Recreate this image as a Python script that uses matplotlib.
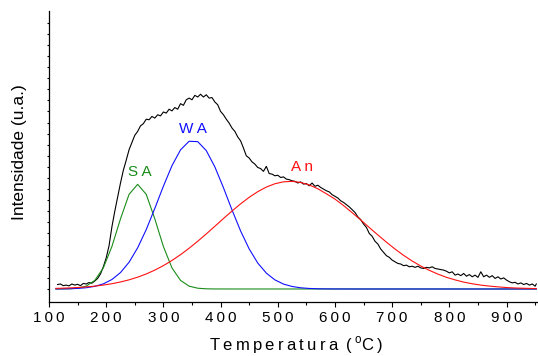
import numpy as np
import matplotlib
matplotlib.use("Agg")
import matplotlib.pyplot as plt
from matplotlib.ticker import MultipleLocator

plt.rcParams['font.family'] = ['Liberation Sans', 'DejaVu Sans']
plt.rcParams['mathtext.fontset'] = 'custom'
plt.rcParams['mathtext.rm'] = 'Liberation Sans'

# measured signal (temperature in C, intensity in arbitrary units)
temp_signal = list(range(115, 951, 5)) + [952]
signal = [
    0.40, 0.45, 0.30, 0.35, 0.28, 0.45, 0.35, 0.42, 0.30, 0.50,
    0.45, 0.58, 0.52, 0.72, 0.95, 1.35, 2.00, 2.80, 3.90, 5.60,
    7.00, 8.30, 9.55, 10.70, 11.60, 12.55, 13.20, 13.85, 14.20, 14.70,
    14.90, 15.30, 15.25, 15.55, 15.40, 15.70, 15.60, 15.95, 15.85, 16.20,
    16.05, 16.35, 16.20, 16.70, 16.55, 17.05, 17.20, 17.05, 17.45, 17.30,
    17.55, 17.30, 17.50, 17.20, 17.25, 16.85, 16.60, 16.00, 15.70, 15.30,
    14.95, 14.50, 14.20, 13.70, 13.35, 12.70, 12.00, 11.80, 11.45, 11.25,
    10.95, 10.85, 10.60, 11.05, 10.40, 10.35, 10.20, 10.25, 10.05, 10.10,
    9.90, 9.85, 9.75, 9.70, 9.55, 9.65, 9.45, 9.50, 9.30, 9.55,
    9.25, 9.35, 9.15, 9.00, 8.85, 8.75, 8.50, 8.35, 8.20, 7.95,
    7.80, 7.60, 7.40, 7.15, 6.90, 6.50, 6.25, 5.85, 5.55, 5.00,
    4.75, 4.30, 4.05, 3.60, 3.30, 3.00, 2.85, 2.60, 2.45, 2.30,
    2.25, 2.10, 2.15, 2.00, 2.05, 1.95, 2.05, 1.90, 1.85, 1.95,
    1.90, 2.00, 1.85, 1.80, 1.75, 1.70, 1.60, 1.45, 1.55, 1.25,
    1.35, 1.20, 1.40, 1.15, 1.30, 1.10, 1.25, 1.05, 1.55, 1.10,
    1.25, 1.05, 1.20, 0.95, 1.10, 0.90, 1.00, 0.80, 0.65, 0.55,
    0.60, 0.45, 0.55, 0.40, 0.50, 0.35, 0.45, 0.25,
    0.45,
]

# deconvoluted peaks
temp_fit = [112] + list(range(120, 946, 15)) + [952]
sa = [0.001, 0.003, 0.015, 0.069, 0.256, 0.77, 1.90, 3.83, 6.32, 8.53,
      9.43, 8.53, 6.32, 3.83, 1.90, 0.77, 0.256, 0.069, 0.015, 0.003,
      0.001] + [0.0] * 37
wa = [0.005, 0.009, 0.022, 0.051, 0.113, 0.236, 0.462, 0.853, 1.48, 2.41,
      3.71, 5.35, 7.26, 9.26, 11.11, 12.54, 13.31, 13.28, 12.47, 11.00,
      9.13, 7.12, 5.23, 3.61, 2.34, 1.43, 0.820, 0.443, 0.225, 0.107,
      0.048, 0.020, 0.008, 0.003, 0.001] + [0.0] * 23
an = [0.053, 0.065, 0.093, 0.133, 0.187, 0.258, 0.352, 0.475, 0.630, 0.824,
      1.064, 1.354, 1.700, 2.105, 2.570, 3.093, 3.673, 4.299, 4.964, 5.651,
      6.346, 7.026, 7.672, 8.260, 8.771, 9.184, 9.484, 9.657, 9.697, 9.603,
      9.378, 9.032, 8.578, 8.10, 7.52, 6.88, 6.22, 5.54, 4.87, 4.22,
      3.60, 3.03, 2.52, 2.07, 1.68, 1.34, 1.05, 0.82, 0.62, 0.47,
      0.35, 0.26, 0.19, 0.13, 0.09, 0.065, 0.045, 0.035]

peak_names = ['S A', 'W A', 'A n']
peak_label_pos = [(259, 10.5), (351, 14.4), (543, 11.0)]
peak_colors = ['#1a8c1a', '#1010ff', '#ff1010']

x_ticks = list(range(100, 901, 100))


def spaced(s, sep='\u2009'):
    return sep.join(s)


fig = plt.figure(figsize=(5.38, 3.56), dpi=100)
ax = fig.add_axes([49 / 538, 53.7 / 356, 1 - 49 / 538, (345 - 53.7) / 356])

ax.plot(temp_signal, signal, color='black', lw=0.8)
for ys, c in zip([sa, wa, an], peak_colors):
    ax.plot(temp_fit, ys, color=c, lw=0.8)

for name, (tx, ty), c in zip(peak_names, peak_label_pos, peak_colors):
    ax.text(tx, ty, name, color=c, fontsize=11, ha='center', va='center')

ax.set_xlim(100, 955)
ax.set_ylim(-1.2, 25.05)
ax.set_xticks(x_ticks)
ax.set_xticklabels([spaced(str(t)) for t in x_ticks], fontsize=11)
ax.xaxis.set_minor_locator(MultipleLocator(50))
ax.set_yticks(range(0, 25))
ax.set_yticklabels([])
ax.tick_params(axis='x', which='major', direction='out', length=3.3, width=0.8, pad=3)
ax.tick_params(axis='x', which='minor', direction='out', length=2, width=0.8)
ax.tick_params(axis='y', which='major', direction='out', length=1.8, width=0.8)
for s in ['top', 'right']:
    ax.spines[s].set_visible(False)
for s in ['left', 'bottom']:
    ax.spines[s].set_linewidth(0.9)

fig.text(296 / 538, 11 / 356, spaced('Temperatura') + '\u2009 (\u2009$^{\\mathrm{o}}$C\u2009)',
         fontsize=12, ha='center', va='center')
fig.text(20 / 538, (356 - 152) / 356, 'Intensidade (u.a.)', fontsize=12.5,
         rotation=90, ha='center', va='center')

fig.savefig('out.png', dpi=100)
